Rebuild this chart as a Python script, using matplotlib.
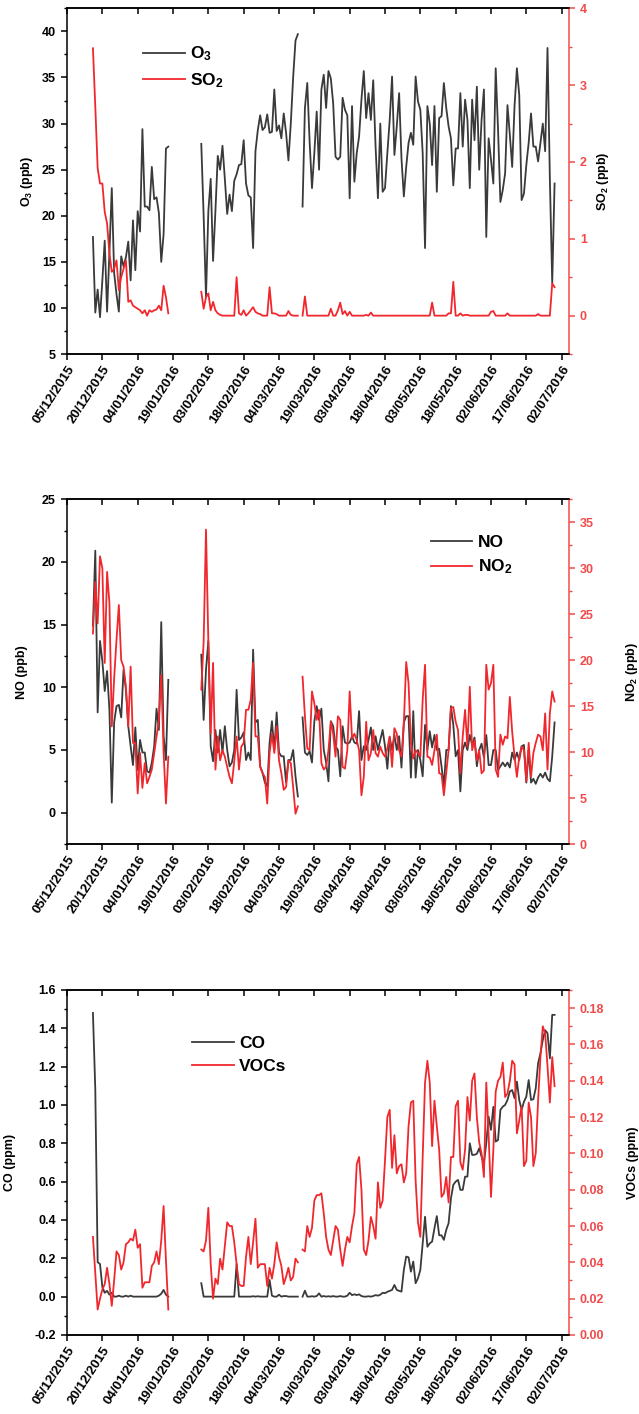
import numpy as np
import pandas as pd
import matplotlib
matplotlib.use('Agg')
import matplotlib.pyplot as plt
import matplotlib.transforms as mtransforms
from matplotlib.ticker import MultipleLocator, FormatStrFormatter

plt.rcParams['font.family'] = ['Liberation Sans', 'DejaVu Sans']
plt.rcParams['font.weight'] = 'bold'
plt.rcParams['mathtext.fontset'] = 'custom'
plt.rcParams['mathtext.rm'] = 'Liberation Sans:bold'
plt.rcParams['mathtext.bf'] = 'Liberation Sans:bold'
plt.rcParams['mathtext.default'] = 'bf'

# three measuring periods (daily values)
seg_starts = ['2015-12-16', '2016-01-31', '2016-03-14']

o3_a = [17.7, 9.5, 12.0, 9.0, 13.0, 17.3, 9.6, 16.0, 23.0, 13.8,
        11.5, 9.6, 15.6, 14.5, 15.5, 17.2, 13.0, 19.5, 14.1, 20.5,
        18.3, 29.4, 21.0, 21.0, 20.6, 25.3, 21.8, 22.0, 20.3, 15.0,
        18.0, 27.3, 27.5]
o3_b = [27.8, 20.0, 11.2, 20.5, 24.0, 15.1, 20.5, 26.5, 25.0, 27.6,
        24.0, 20.2, 22.3, 20.5, 23.8, 24.5, 25.5, 25.6, 28.2, 23.5,
        22.2, 22.0, 16.5, 27.0, 29.3, 30.9, 29.3, 29.6, 31.0, 29.0,
        29.1, 33.7, 29.2, 29.8, 28.4, 31.1, 29.0, 26.0, 30.0, 35.0,
        39.0, 39.7]
o3_c = [21.0, 31.7, 34.4, 28.0, 23.0, 26.8, 31.3, 25.0, 33.7, 35.3,
        31.7, 35.7, 34.9, 32.2, 26.4, 26.1, 26.4, 32.8, 31.5, 30.9,
        21.9, 31.9, 23.7, 26.8, 28.6, 32.6, 35.7, 30.6, 33.3, 30.4,
        34.7, 27.5, 21.9, 30.0, 22.6, 23.0, 26.8, 30.4, 35.1, 26.6,
        29.7, 33.3, 26.2, 22.1, 25.3, 27.9, 29.0, 27.7, 35.1, 32.4,
        31.5, 26.8, 16.5, 31.9, 30.0, 25.5, 31.9, 22.6, 30.6, 30.8,
        34.4, 31.7, 29.7, 28.4, 23.3, 27.3, 27.3, 33.3, 27.5, 32.6,
        30.4, 23.0, 32.6, 28.2, 34.0, 25.0, 30.4, 33.7, 17.7, 28.4,
        26.1, 23.5, 36.0, 29.3, 21.5, 22.8, 24.6, 32.0, 28.8, 25.3,
        31.9, 36.0, 33.1, 21.7, 22.4, 25.5, 27.9, 31.1, 27.5, 27.5,
        25.9, 27.9, 30.0, 27.0, 38.2, 24.0, 12.7, 23.5]

so2_a = [3.48, 2.72, 1.92, 1.72, 1.72, 1.35, 1.20, 0.81, 0.57, 0.61,
         0.72, 0.33, 0.50, 0.61, 0.72, 0.18, 0.20, 0.13, 0.11, 0.09,
         0.07, 0.03, 0.07, 0.00, 0.07, 0.05, 0.07, 0.08, 0.13, 0.07,
         0.39, 0.24, 0.03]
so2_b = [0.31, 0.09, 0.24, 0.29, 0.07, 0.18, 0.07, 0.03, 0.01, 0.0,
         0.0, 0.0, 0.0, 0.0, 0.0, 0.50, 0.03, 0.01, 0.07, 0.0,
         0.03, 0.07, 0.11, 0.05, 0.03, 0.02, 0.0, 0.0, 0.0, 0.37,
         0.03, 0.03, 0.02, 0.0, 0.0, 0.0, 0.0, 0.06, 0.01, 0.0,
         0.0, 0.0]
so2_c = [0.0, 0.25, 0.0, 0.0, 0.0, 0.0, 0.0, 0.0, 0.0, 0.0,
         0.0, 0.0, 0.09, 0.0, 0.0, 0.07, 0.17, 0.02, 0.06, 0.0,
         0.05, 0.0, 0.0, 0.0, 0.0, 0.0, 0.0, 0.01, 0.0, 0.04,
         0.0, 0.0, 0.0, 0.0, 0.0, 0.0, 0.0, 0.0, 0.0, 0.0,
         0.0, 0.0, 0.0, 0.0, 0.0, 0.0, 0.0, 0.0, 0.0, 0.0,
         0.0, 0.0, 0.0, 0.0, 0.0, 0.17, 0.0, 0.0, 0.0, 0.0,
         0.0, 0.0, 0.03, 0.03, 0.44, 0.0, 0.0, 0.03, 0.0, 0.01,
         0.01, 0.0, 0.0, 0.0, 0.0, 0.0, 0.0, 0.0, 0.0, 0.0,
         0.05, 0.06, 0.0, 0.0, 0.0, 0.0, 0.0, 0.03, 0.0, 0.0,
         0.0, 0.0, 0.0, 0.0, 0.0, 0.0, 0.0, 0.0, 0.0, 0.0,
         0.02, 0.0, 0.0, 0.0, 0.0, 0.0, 0.42, 0.37]

no_a = [14.9, 20.9, 8.0, 13.7, 12.1, 9.7, 11.3, 8.2, 0.8, 7.2,
        8.5, 8.6, 7.6, 11.4, 9.8, 6.9, 5.3, 3.8, 6.8, 3.4,
        5.8, 4.8, 4.8, 3.3, 3.2, 4.0, 5.3, 8.3, 6.6, 15.2,
        6.1, 4.2, 10.6]
no_b = [12.6, 7.4, 11.4, 13.7, 5.3, 4.1, 6.6, 4.8, 6.6, 4.8,
        6.9, 5.0, 3.7, 4.0, 5.0, 9.8, 5.8, 6.0, 6.4, 4.2,
        4.8, 4.2, 13.0, 7.2, 7.4, 3.7, 3.2, 2.4, 2.1, 5.6,
        7.3, 5.0, 8.0, 4.8, 4.5, 4.5, 2.4, 4.2, 4.2, 5.0,
        2.9, 1.3]
no_c = [7.6, 4.8, 4.6, 4.9, 4.0, 7.3, 8.5, 7.4, 8.3, 5.0,
        4.0, 2.5, 7.3, 6.9, 5.3, 5.0, 2.9, 6.9, 5.6, 5.5,
        5.6, 6.1, 5.6, 5.5, 8.1, 4.2, 5.3, 5.0, 5.8, 6.8,
        5.0, 6.1, 5.0, 5.8, 6.6, 5.3, 3.5, 6.0, 5.0, 6.2,
        5.0, 6.1, 3.6, 7.2, 7.7, 7.7, 2.8, 8.1, 2.8, 5.0,
        4.2, 2.9, 7.0, 5.0, 6.5, 5.2, 6.2, 5.0, 5.1, 3.7,
        2.1, 5.0, 5.0, 8.5, 7.0, 4.5, 5.0, 1.7, 5.0, 5.6,
        5.0, 6.2, 5.4, 6.0, 3.7, 5.0, 5.5, 4.4, 6.2, 3.8,
        3.8, 5.0, 5.0, 3.4, 3.7, 4.0, 3.7, 4.0, 3.6, 4.8,
        4.2, 4.8, 4.2, 5.3, 5.4, 2.4, 5.0, 2.4, 2.7, 2.3,
        2.8, 3.1, 2.8, 3.2, 2.7, 2.5, 4.5, 7.2]

no2_a = [22.9, 28.5, 24.0, 31.3, 30.0, 19.7, 29.6, 26.2, 12.8, 18.0,
         22.2, 26.0, 20.0, 19.3, 17.1, 12.8, 19.3, 11.0, 11.0, 5.5,
         9.9, 6.1, 8.8, 6.6, 7.3, 8.1, 9.9, 11.7, 13.5, 18.4,
         10.0, 4.4, 9.5]
no2_b = [16.8, 22.0, 34.2, 22.0, 12.0, 19.7, 8.1, 11.7, 9.1, 10.2,
         9.5, 8.4, 7.3, 6.6, 9.0, 11.7, 8.1, 10.6, 11.0, 14.6,
         14.6, 15.7, 19.7, 11.7, 11.7, 8.4, 7.7, 7.3, 4.4, 9.9,
         12.0, 9.9, 12.8, 9.1, 7.7, 5.9, 6.2, 9.1, 8.8, 6.2,
         3.3, 4.1]
no2_c = [18.2, 13.9, 10.4, 10.2, 16.6, 15.3, 13.5, 14.6, 8.8, 8.1,
         8.4, 10.2, 13.3, 12.0, 9.5, 13.9, 13.5, 8.4, 8.2, 10.2,
         16.6, 11.5, 12.0, 11.3, 10.2, 5.3, 7.3, 13.3, 9.1, 9.9,
         12.4, 9.9, 9.5, 10.6, 9.9, 9.5, 10.4, 11.7, 8.4, 12.6,
         12.0, 10.2, 9.5, 13.1, 19.8, 17.5, 11.0, 9.3, 10.2, 9.9,
         9.5, 15.7, 19.5, 9.5, 9.4, 8.6, 10.2, 11.9, 7.7, 7.6,
         5.3, 7.7, 10.2, 14.8, 14.9, 13.3, 12.4, 7.7, 11.7, 14.6,
         10.6, 17.1, 10.2, 11.3, 9.1, 10.2, 7.7, 8.0, 19.5, 16.8,
         17.5, 19.5, 8.1, 7.3, 11.9, 10.8, 11.7, 11.5, 16.0, 12.2,
         9.5, 7.3, 9.5, 10.6, 10.2, 6.8, 11.0, 7.3, 9.9, 11.0,
         11.9, 11.7, 10.2, 14.2, 8.1, 14.2, 16.6, 15.5]

co_a = [1.48, 1.08, 0.18, 0.17, 0.05, 0.02, 0.03, 0.01, 0.02, 0.0,
        0.0, 0.005, 0.0, 0.0, 0.005, 0.0, 0.005, 0.0, 0.0, 0.0,
        0.0, 0.0, 0.0, 0.0, 0.0, 0.0, 0.0, 0.0, 0.005, 0.015,
        0.035, 0.01, 0.0]
co_b = [0.07, 0.0, 0.0, 0.0, 0.0, 0.0, 0.0, 0.0, 0.0, 0.0,
        0.0, 0.0, 0.0, 0.0, 0.0, 0.17, 0.0, 0.0, 0.0, 0.0,
        0.0, 0.0, 0.002, 0.0, 0.002, 0.0, 0.0, 0.0, 0.0, 0.087,
        0.005, 0.0, 0.0, 0.01, 0.0, 0.003, 0.003, 0.0, 0.0, 0.0,
        0.0, 0.0]
co_c = [0.0, 0.031, 0.0, 0.0, 0.002, 0.0, 0.003, 0.017, 0.0, 0.003,
        0.0, 0.002, 0.0, 0.003, 0.0, 0.0, 0.003, 0.0, 0.0, 0.005,
        0.02, 0.008, 0.012, 0.008, 0.012, 0.003, 0.0, 0.0, 0.002, 0.0,
        0.003, 0.008, 0.005, 0.01, 0.02, 0.018, 0.025, 0.03, 0.035, 0.061,
        0.035, 0.03, 0.026, 0.139, 0.209, 0.205, 0.13, 0.183, 0.07, 0.096,
        0.139, 0.278, 0.417, 0.26, 0.278, 0.287, 0.357, 0.42, 0.32, 0.32,
        0.296, 0.348, 0.383, 0.513, 0.583, 0.60, 0.609, 0.557, 0.557, 0.626,
        0.626, 0.80, 0.739, 0.74, 0.745, 0.774, 0.73, 0.696, 0.80, 0.939,
        0.87, 0.99, 0.809, 0.817, 0.974, 0.991, 1.0, 1.026, 1.07, 1.078,
        1.035, 1.122, 1.026, 0.974, 1.017, 1.043, 1.13, 1.026, 1.03, 1.087,
        1.217, 1.27, 1.339, 1.39, 1.374, 1.243, 1.47, 1.47]

voc_a = [0.054, 0.034, 0.014, 0.020, 0.025, 0.028, 0.037, 0.028, 0.016, 0.030,
         0.046, 0.044, 0.036, 0.040, 0.050, 0.051, 0.053, 0.052, 0.058, 0.048,
         0.050, 0.026, 0.029, 0.029, 0.029, 0.038, 0.040, 0.046, 0.039, 0.052,
         0.071, 0.041, 0.014]
voc_b = [0.047, 0.046, 0.052, 0.070, 0.039, 0.020, 0.031, 0.028, 0.042, 0.036,
         0.049, 0.062, 0.060, 0.060, 0.051, 0.039, 0.028, 0.027, 0.027, 0.043,
         0.054, 0.039, 0.051, 0.064, 0.037, 0.039, 0.039, 0.039, 0.027, 0.037,
         0.031, 0.039, 0.051, 0.043, 0.038, 0.028, 0.032, 0.037, 0.030, 0.032,
         0.042, 0.040]
voc_c = [0.047, 0.046, 0.060, 0.054, 0.059, 0.074, 0.077, 0.077, 0.078, 0.067,
         0.054, 0.047, 0.044, 0.052, 0.060, 0.058, 0.047, 0.038, 0.047, 0.054,
         0.051, 0.060, 0.067, 0.094, 0.098, 0.080, 0.047, 0.044, 0.052, 0.065,
         0.060, 0.053, 0.084, 0.070, 0.074, 0.096, 0.120, 0.124, 0.092, 0.110,
         0.089, 0.093, 0.094, 0.084, 0.089, 0.115, 0.128, 0.129, 0.085, 0.062,
         0.054, 0.098, 0.139, 0.151, 0.139, 0.104, 0.129, 0.115, 0.102, 0.076,
         0.078, 0.087, 0.073, 0.098, 0.098, 0.126, 0.129, 0.095, 0.091, 0.102,
         0.131, 0.118, 0.140, 0.144, 0.120, 0.106, 0.100, 0.087, 0.139, 0.110,
         0.076, 0.102, 0.134, 0.140, 0.142, 0.150, 0.131, 0.133, 0.140, 0.151,
         0.149, 0.111, 0.118, 0.126, 0.093, 0.096, 0.128, 0.120, 0.093, 0.100,
         0.129, 0.153, 0.170, 0.166, 0.148, 0.128, 0.153, 0.137]

tick_dates = pd.date_range('2015-12-05', '2016-07-02', freq='15D')
tick_labels = [d.strftime('%d/%m/%Y') for d in tick_dates]

BLACK = '#3a3a3a'
RED = '#f0282d'
AXRED = '#f24a4a'


def daily(parts):
    s = pd.concat([pd.Series(p, index=pd.date_range(d, periods=len(p)))
                   for d, p in zip(seg_starts, parts)])
    return s.asfreq('D')


def panel(rect, left, right, lname, rname, llab, rlab,
          lylim, rylim, lmaj, lmin, rmaj, rmin, lfmt, rfmt,
          leg_xy, lab_x):
    ax = fig.add_axes(rect)
    ax2 = ax.twinx()
    l1, = ax.plot(left.index, left.values, color=BLACK, lw=1.3, label=lname)
    l2, = ax2.plot(right.index, right.values, color=RED, lw=1.3, label=rname)

    ax.set_xlim(pd.Timestamp('2015-12-05'), pd.Timestamp('2016-07-05'))
    ax.set_xticks(tick_dates)
    labs = ax.set_xticklabels(tick_labels, rotation=57, ha='right', va='top',
                              rotation_mode='anchor', fontsize=9.5,
                              fontweight='bold')
    shift = mtransforms.ScaledTranslation(5 / 72, 0, fig.dpi_scale_trans)
    for t in labs:
        t.set_transform(t.get_transform() + shift)
    ax.tick_params(axis='x', direction='out', length=4, width=1.1, pad=3)

    # top ticks pointing in, drawn by the twin axis
    ax2.xaxis.set_visible(True)
    ax2.xaxis.tick_top()
    ax2.tick_params(axis='x', direction='in', length=4, width=1.1,
                    labeltop=False, labelbottom=False)

    ax.set_ylim(*lylim)
    ax.yaxis.set_major_locator(MultipleLocator(lmaj))
    ax.yaxis.set_minor_locator(MultipleLocator(lmin))
    ax.yaxis.set_major_formatter(FormatStrFormatter(lfmt))
    ax.tick_params(axis='y', which='major', direction='out', length=4.5,
                   width=1.1, labelsize=9)
    ax.tick_params(axis='y', which='minor', direction='out', length=2.5, width=1.0)

    ax2.set_ylim(*rylim)
    ax2.yaxis.set_major_locator(MultipleLocator(rmaj))
    ax2.yaxis.set_minor_locator(MultipleLocator(rmin))
    ax2.yaxis.set_major_formatter(FormatStrFormatter(rfmt))
    ax2.tick_params(axis='y', which='major', direction='out', length=4.5,
                    width=1.1, labelsize=9, colors=AXRED)
    ax2.tick_params(axis='y', which='minor', direction='out', length=2.5,
                    width=1.0, colors=AXRED)

    for a in (ax, ax2):
        for sp in a.spines.values():
            sp.set_linewidth(1.1)
            sp.set_color('black')
    ax.spines['right'].set_visible(False)
    ax2.spines['left'].set_visible(False)
    ax2.spines['right'].set_color(AXRED)

    ax.set_ylabel(llab, fontsize=9, fontweight='bold', va='center')
    ax.yaxis.set_label_coords(lab_x[0], 0.5)
    ax2.set_ylabel(rlab, fontsize=9, fontweight='bold', va='center')
    ax2.yaxis.set_label_coords(lab_x[1], 0.5)

    ax2.legend(handles=[l1, l2], loc='upper left', bbox_to_anchor=leg_xy,
               frameon=False, borderpad=0, borderaxespad=0,
               handlelength=2.4, handletextpad=0.3, labelspacing=0.45,
               prop={'weight': 'bold', 'size': 12.5})
    return ax, ax2


fig = plt.figure(figsize=(6.39, 14.14), dpi=100)

panel([0.1049, 0.7496, 0.7851, 0.2445],
      daily([o3_a, o3_b, o3_c]), daily([so2_a, so2_b, so2_c]),
      'O$_3$', 'SO$_2$', 'O$_3$ (ppb)', 'SO$_2$ (ppb)',
      (5, 42.5), (-0.5, 4), 5, 2.5, 1, 0.5, '%d', '%d',
      (0.152, 0.895), (-0.0797, 1.068))

panel([0.1049, 0.4031, 0.7851, 0.2438],
      daily([no_a, no_b, no_c]), daily([no2_a, no2_b, no2_c]),
      'NO', 'NO$_2$', 'NO (ppb)', 'NO$_2$ (ppb)',
      (-2.5, 25), (0, 37.5), 5, 2.5, 5, 2.5, '%d', '%d',
      (0.725, 0.897), (-0.0903, 1.1256))

panel([0.1049, 0.0559, 0.7851, 0.2440],
      daily([co_a, co_b, co_c]), daily([voc_a, voc_b, voc_c]),
      'CO', 'VOCs', 'CO (ppm)', 'VOCs (ppm)',
      (-0.2, 1.6), (0, 0.19), 0.2, 0.1, 0.02, 0.01, '%.1f', '%.2f',
      (0.249, 0.868), (-0.1136, 1.128))

fig.savefig('out.png', dpi=100)
